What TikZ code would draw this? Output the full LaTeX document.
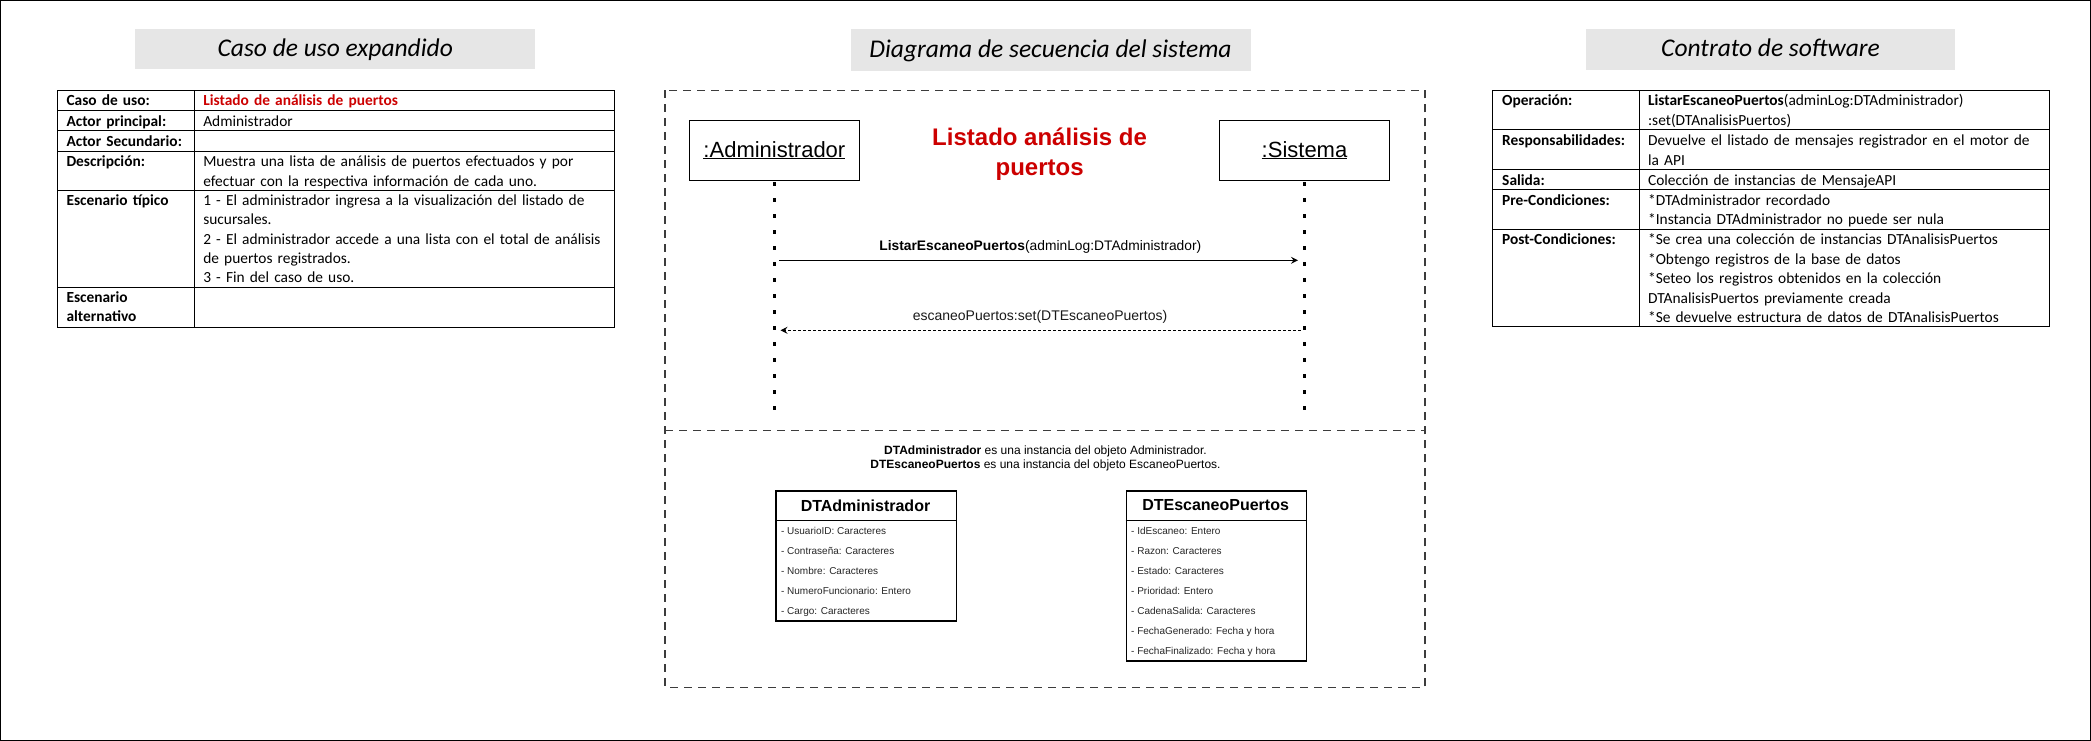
\documentclass[tikz,border=0pt]{standalone}
\usepackage{fontspec}
\setmainfont{Carlito}
\newfontfamily\arialf{Liberation Sans}
\usetikzlibrary{arrows.meta}
\definecolor{titlegray}{RGB}{230,230,230}
\definecolor{mred}{RGB}{204,0,0}
\definecolor{framegray}{RGB}{60,60,60}
\newcommand\myul[1]{\setbox0\hbox{#1}\rlap{\rule[-2.4pt]{\wd0}{1.5pt}}\box0}
\newcommand\tst{\rule{0pt}{13pt}}
\begin{document}
\begin{tikzpicture}[x=1pt,y=-1pt,
  titlebox/.style={fill=titlegray, draw=none, inner sep=0pt, text height=18.5pt, text depth=4pt,
    font=\fontsize{25.5}{30}\selectfont\itshape},
  tline/.style={line width=1pt, draw=black},
  ttxt/.style={anchor=north west, inner sep=0pt, align=left, text width=#1,
    font=\fontsize{15.4}{19.3}\selectfont},
  rtxt/.style={anchor=north west, inner sep=0pt, align=left, text width=#1,
    font=\fontsize{15.4}{19.5}\selectfont},
  frame/.style={draw=framegray, line width=1.3pt, dash pattern=on 8pt off 6pt},
  actor/.style={draw=black, line width=1.3pt, inner sep=0pt, minimum height=60pt,
    font=\arialf\fontsize{22}{26}\selectfont},
  lifeline/.style={draw=black, line width=3.2pt, dash pattern=on 3.4pt off 12.6pt},
  msg/.style={draw=black, line width=1.2pt, -{Stealth[length=7pt,width=7pt,inset=2.5pt]}},
  ret/.style={draw=black, line width=1pt, dash pattern=on 3pt off 2pt, -{Stealth[length=7pt,width=7pt,inset=2.5pt]}},
  classbox/.style={draw=black, line width=1.3pt, inner sep=0pt, anchor=north west},
  classhead/.style={inner sep=0pt, font=\arialf\bfseries\fontsize{16}{19}\selectfont},
  attr/.style={anchor=base west, inner sep=0pt, text=black!85, font=\arialf\fontsize{10}{12}\selectfont}
]
\useasboundingbox (0,0) rectangle (2091,741);
\draw[line width=1.4pt] (0.7,0.7) rectangle (2090.3,740.3);

% ---------------- titles
\node[titlebox, minimum width=400.3pt, minimum height=40pt] (t1) at (335.25,49.3) {Caso de uso expandido};
\node[titlebox, minimum width=400pt, minimum height=41.4pt] (t2) at (1050.5,50) {Diagrama de secuencia del sistema};
\node[titlebox, minimum width=369pt, minimum height=40.7pt] (t3) at (1770.5,49.65) {Contrato de software};

% ---------------- left table
\draw[tline] (57.4,90.3) rectangle (614.1,327);
\draw[tline] (194.3,90.3) -- (194.3,327);
\foreach \yy in {111,131,151.3,190,287} {\draw[tline] (57.4,\yy) -- (614.1,\yy);}

\node[ttxt=130pt] (l1a) at (66.3,92.7) {\tst\textbf{Caso de uso:}};
\node[ttxt=440pt] (l1b) at (203.1,92.7) {\tst\textcolor{mred}{\textbf{Listado de análisis de puertos}}};
\node[ttxt=130pt] (l2a) at (66.3,113.4) {\tst\textbf{Actor principal:}};
\node[ttxt=440pt] (l2b) at (203.1,113.4) {\tst Administrador};
\node[ttxt=130pt] (l3a) at (66.3,133.4) {\tst\textbf{Actor Secundario:}};
\node[ttxt=130pt] (l4a) at (66.3,153.7) {\tst\textbf{Descripción:}};
\node[ttxt=440pt] (l4b) at (203.1,153.7) {\tst Muestra una lista de análisis de puertos efectuados y por\\efectuar con la respectiva información de cada uno.};
\node[ttxt=130pt] (l5a) at (66.3,192.4) {\tst\textbf{Escenario típico}};
\node[ttxt=440pt] (l5b) at (203.1,192.4) {\tst 1 - El administrador ingresa a la visualización del listado de\\sucursales.\\2 - El administrador accede a una lista con el total de análisis\\de puertos registrados.\\3 - Fin del caso de uso.};
\node[ttxt=130pt] (l6a) at (66.3,289.4) {\tst\textbf{Escenario}\\\textbf{alternativo}};

% ---------------- right table
\draw[tline] (1492.5,90.3) rectangle (2049.3,326);
\draw[tline] (1639.3,90.3) -- (1639.3,326);
\foreach \yy in {130,169,189,229.3} {\draw[tline] (1492.5,\yy) -- (2049.3,\yy);}

\node[rtxt=140pt] (r1a) at (1502,92.7) {\tst\textbf{Operación:}};
\node[rtxt=440pt] (r1b) at (1647.9,92.7) {\tst\textbf{ListarEscaneoPuertos}(adminLog:DTAdministrador)\\{}:set(DTAnalisisPuertos)};
\node[rtxt=140pt] (r2a) at (1502,132.4) {\tst\textbf{Responsabilidades:}};
\node[rtxt=440pt] (r2b) at (1647.9,132.4) {\tst Devuelve el listado de mensajes registrador en el motor de\\la API};
\node[rtxt=140pt] (r3a) at (1502,172) {\tst\textbf{Salida:}};
\node[rtxt=440pt] (r3b) at (1647.9,172) {\tst Colección de instancias de MensajeAPI};
\node[rtxt=140pt] (r4a) at (1502,192) {\tst\textbf{Pre-Condiciones:}};
\node[rtxt=440pt] (r4b) at (1647.9,192) {\tst *DTAdministrador recordado\\{}*Instancia DTAdministrador no puede ser nula};
\node[rtxt=140pt] (r5a) at (1502,231.7) {\tst\textbf{Post-Condiciones:}};
\node[rtxt=440pt] (r5b) at (1647.9,231.7) {\tst *Se crea una colección de instancias DTAnalisisPuertos\\{}*Obtengo registros de la base de datos\\{}*Seteo los registros obtenidos en la colección\\DTAnalisisPuertos previamente creada\\{}*Se devuelve estructura de datos de DTAnalisisPuertos};

% ---------------- sequence diagram
\draw[frame] (665,90.3) rectangle (1425,687.3);
\draw[frame] (665,430.3) -- (1425,430.3);

\node[actor, minimum width=170.2pt] (adm) at (774.4,150.3) {\myul{:Administrador}};
\node[actor, minimum width=169.7pt] (sys) at (1304.5,150.3) {\myul{:Sistema}};
\node[font=\arialf\bfseries\fontsize{24}{30}\selectfont, text=mred, align=center, inner sep=0pt] (ttl) at (1039.6,154) {Listado análisis de\\puertos};

\coordinate (admEnd) at (774.4,410);
\coordinate (sysEnd) at (1304.5,410);
\draw[lifeline] ([yshift=-1.3pt]adm.south) -- (admEnd);
\draw[lifeline] ([yshift=-1.3pt]sys.south) -- (sysEnd);

\coordinate (m1a) at (779.4,260.3);
\coordinate (m1b) at (1298,260.3);
\coordinate (m2a) at (1300.5,330.3);
\coordinate (m2b) at (780.5,330.3);
\draw[msg] (m1a) -- (m1b);
\draw[ret] (m2a) -- (m2b);
\node[inner sep=0pt, font=\arialf\fontsize{13.8}{16}\selectfont] (lab1) at (1040.3,246.6) {\textbf{ListarEscaneoPuertos}(adminLog:DTAdministrador)};
\node[inner sep=0pt, text=black!90, font=\arialf\fontsize{14}{16}\selectfont] (lab2) at (1040,316.6) {escaneoPuertos:set(DTEscaneoPuertos)};

\node[inner sep=0pt, align=center, font=\arialf\fontsize{12}{14}\selectfont] (note) at (1045.5,458.5) {\textbf{DTAdministrador} es una instancia del objeto Administrador.\\\textbf{DTEscaneoPuertos} es una instancia del objeto EscaneoPuertos.};

% class DTAdministrador
\node[classbox, minimum width=180.1pt, minimum height=130pt] (dta) at (775.4,490.3) {};
\draw[line width=1.3pt] ([yshift=-30pt]dta.north west) -- ([yshift=-30pt]dta.north east);
\node[classhead] (dtah) at (865.5,505.3) {DTAdministrador};
\node[attr] (a1) at (780.9,534.3) {- UsuarioID: Caracteres};
\node[attr] (a2) at (780.9,554.3) {- Contraseña: Caracteres};
\node[attr] (a3) at (780.9,574.3) {- Nombre: Caracteres};
\node[attr] (a4) at (780.9,594.3) {- NumeroFuncionario: Entero};
\node[attr] (a5) at (780.9,614.3) {- Cargo: Caracteres};

% class DTEscaneoPuertos
\node[classbox, minimum width=180.1pt, minimum height=170pt] (dte) at (1125.6,490.3) {};
\draw[line width=1.3pt] ([yshift=-30pt]dte.north west) -- ([yshift=-30pt]dte.north east);
\node[classhead] (dteh) at (1215.6,505.3) {DTEscaneoPuertos};
\node[attr] (b1) at (1131,534.3) {- IdEscaneo: Entero};
\node[attr] (b2) at (1131,554.3) {- Razon: Caracteres};
\node[attr] (b3) at (1131,574.3) {- Estado: Caracteres};
\node[attr] (b4) at (1131,594.3) {- Prioridad: Entero};
\node[attr] (b5) at (1131,614.3) {- CadenaSalida: Caracteres};
\node[attr] (b6) at (1131,634.3) {- FechaGenerado: Fecha y hora};
\node[attr] (b7) at (1131,654.3) {- FechaFinalizado: Fecha y hora};
\end{tikzpicture}
\end{document}
